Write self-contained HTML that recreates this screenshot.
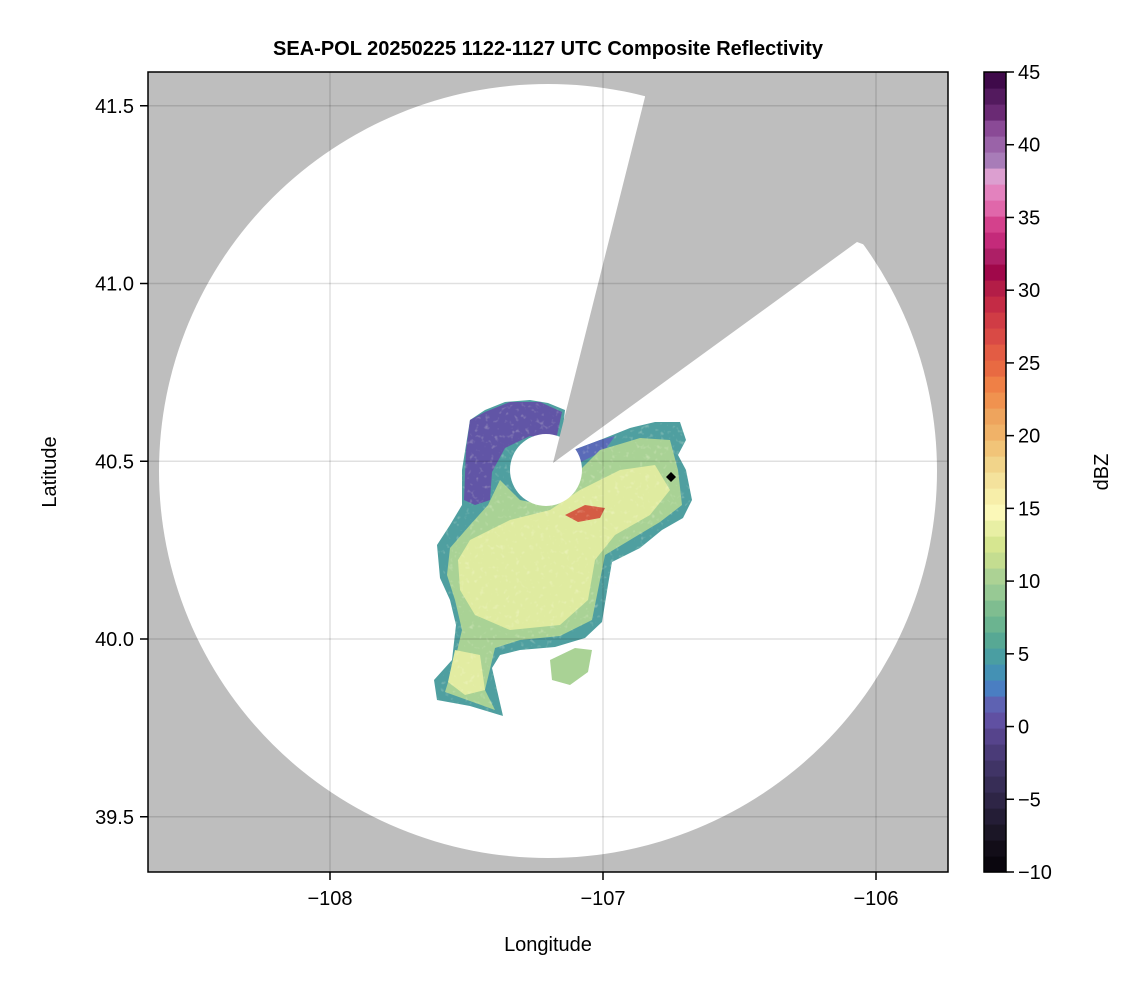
<!DOCTYPE html>
<html><head><meta charset="utf-8"><style>
body{margin:0;background:#fff;font-family:"Liberation Sans",sans-serif}
svg text{font-family:"Liberation Sans",sans-serif}
</style></head><body>
<svg width="1146" height="990" viewBox="0 0 1146 990">
<defs>
<clipPath id="pc"><rect x="148" y="72" width="800" height="800"/></clipPath>
<filter id="tex"><feTurbulence type="fractalNoise" baseFrequency="0.2" numOctaves="2" seed="3"/><feColorMatrix values="0 0 0 0 1 0 0 0 0 1 0 0 0 0 0.8 0 0 0 1.0 -0.6"/><feComposite in2="SourceGraphic" operator="in"/></filter>
</defs>
<text x="548" y="55" text-anchor="middle" font-size="20" font-weight="bold">SEA-POL 20250225 1122-1127 UTC Composite Reflectivity</text>
<g clip-path="url(#pc)">
<rect x="148" y="72" width="800" height="800" fill="#bebebe"/>
<ellipse cx="548" cy="471" rx="389" ry="387" fill="#fff"/>
<g>
<path d="M470,420 L485,410 L505,402 L530,400 L548,403 L565,410 L560,455 L600,440 L630,428 L655,422 L680,422 L686,440 L678,455 L686,470 L692,500 L683,518 L662,530 L640,548 L612,562 L608,585 L602,622 L585,638 L555,647 L520,650 L500,655 L492,668 L497,690 L503,716 L470,706 L437,700 L434,680 L452,660 L456,625 L450,600 L440,578 L437,545 L450,525 L462,505 L462,470 Z" fill="#4f9fa0"/>
<path d="M485,412 L510,402 L540,402 L562,412 L556,440 L530,436 L505,448 L492,472 L490,500 L475,505 L464,500 L466,450 L470,420 Z" fill="#6155a6"/>
<path d="M560,455 L600,440 L615,436 L605,450 L575,465 Z" fill="#5a6bb8"/>
<path d="M500,480 L520,500 L545,505 L570,480 L600,450 L640,438 L670,440 L678,470 L682,505 L660,522 L630,540 L605,555 L598,590 L592,620 L560,636 L520,640 L495,648 L485,690 L495,710 L445,692 L455,660 L462,630 L455,600 L447,575 L450,548 L470,525 L488,505 Z" fill="#a9d295"/>
<path d="M470,540 L510,520 L550,510 L580,490 L620,470 L655,465 L670,490 L650,515 L615,535 L595,560 L588,600 L560,625 L510,630 L475,615 L460,590 L458,560 Z" fill="#dfeba0"/>
<path d="M455,650 L480,655 L485,690 L465,695 L448,682 Z" fill="#e2eca2"/>
<path d="M550,660 L575,648 L592,650 L588,672 L570,685 L552,680 Z" fill="#a9d295"/>
<path d="M565,515 L585,505 L605,508 L600,518 L578,522 Z" fill="#d45c44"/>
<g filter="url(#tex)"><path d="M470,420 L525,400 L565,410 L560,455 L655,422 L686,428 L692,500 L640,548 L602,622 L555,647 L500,655 L503,716 L437,700 L456,625 L437,545 L462,470 Z" fill="#fff"/></g>
</g>
<circle cx="546" cy="470" r="36" fill="#fff"/>
<polygon points="553,463 645,97 645,60 960,60 960,280 857,242" fill="#bebebe"/>
<polygon points="671,472 676,477 671,482 666,477" fill="#000"/>
<g id="grid" stroke="rgba(0,0,0,0.12)" stroke-width="1.5"></g>
</g>
<rect x="148" y="72" width="800" height="800" fill="none" stroke="#000" stroke-width="1.5"/>
<g id="axes" font-size="20"></g>
<text x="548" y="951" text-anchor="middle" font-size="20">Longitude</text>
<text transform="translate(56,472) rotate(-90)" text-anchor="middle" font-size="20">Latitude</text>
<g id="cbar"></g>
<text transform="translate(1108,472) rotate(-90)" text-anchor="middle" font-size="20">dBZ</text>
</svg>
<script>
const xTicks=[-108,-107,-106];
const yTicks=[39.5,40.0,40.5,41.0,41.5];
const cbTicks=[-10,-5,0,5,10,15,20,25,30,35,40,45];
const cbColors=["#0a060e","#120d18","#1b1626","#241d36","#2e2546","#372d56","#403466","#4a3b78","#56448c","#6050a2","#5e62b2","#4a7ec2","#4491b4","#4a9ea2","#57a894","#6bb490","#7fbd90","#97c994","#acd294","#c4dd90","#d6e690","#e8efa4","#fbf8b8","#f7eea9","#f4e29c","#f1d48a","#f1c478","#f0b268","#eea45d","#f0924f","#ef8046","#e86a42","#e35c44","#d94a45","#d03c45","#c42b45","#b31d47","#a0084a","#ad1f66","#c42a7a","#d4418c","#e067aa","#e382be","#dc9fd0","#a87cb8","#9a63a8","#8a4a96","#6a2a74","#531a5e","#3f0a4a"];
const NS="http://www.w3.org/2000/svg";
const xs=v=>330+(v+108)*273, ys=v=>639-(v-40)*355.5;
const cbY=v=>872-(v+10)/55*800;
function mk(t,a,p){const e=document.createElementNS(NS,t);for(const k in a)e.setAttribute(k,a[k]);p.appendChild(e);return e;}
const grid=document.getElementById('grid'),axes=document.getElementById('axes'),cb=document.getElementById('cbar');
xTicks.forEach(v=>{const x=xs(v);
 const g=mk('line',{x1:x,x2:x,y1:72,y2:872},grid);
 
 const t=mk('line',{x1:x,x2:x,y1:872,y2:880,stroke:'#000','stroke-width':1.5},axes);
 
 const l=mk('text',{x:x,y:905,'text-anchor':'middle'},axes);l.textContent=String(v).replace('-','\u2212');
 });
yTicks.forEach(v=>{const y=ys(v);
 const g=mk('line',{x1:148,x2:948,y1:y,y2:y},grid);
 
 const t=mk('line',{x1:140,x2:148,y1:y,y2:y,stroke:'#000','stroke-width':1.5},axes);
 
 const l=mk('text',{x:134,y:y+7,'text-anchor':'end'},axes);l.textContent=v.toFixed(1);
 });
const n=cbColors.length,h=800/n;
cbColors.forEach((c,i)=>{const r=mk('rect',{x:984,y:872-(i+1)*h,width:22,height:h+0.6,fill:c},cb);
 });
const fr=mk('rect',{x:984,y:72,width:22,height:800,fill:'none',stroke:'#000','stroke-width':1.5},cb);

cbTicks.forEach(v=>{const y=cbY(v);
 const t=mk('line',{x1:1006,x2:1014,y1:y,y2:y,stroke:'#000','stroke-width':1.5},cb);
 
 const l=mk('text',{x:1018,y:y+7,'font-size':20},cb);l.textContent=String(v).replace('-','\u2212');
 });
</script>
</body></html>
